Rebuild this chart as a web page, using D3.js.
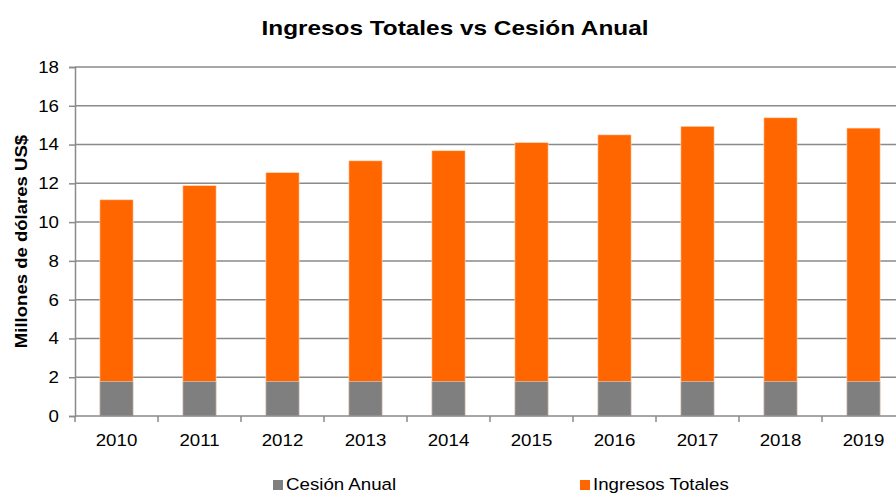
<!DOCTYPE html>
<html>
<head>
<meta charset="utf-8">
<script src="https://cdn.jsdelivr.net/npm/d3@7"></script>
<style>
  body { margin: 0; background: #fff; }
  text { font-family: "Liberation Sans", Arial, sans-serif; fill: #000; }
</style>
</head>
<body>
<div id="chart"></div>
<script>
const years = ["2010", "2011", "2012", "2013", "2014", "2015", "2016", "2017", "2018", "2019"];
const ingresosTotales = [11.15, 11.88, 12.55, 13.16, 13.68, 14.1, 14.5, 14.94, 15.38, 14.85];
const cesionAnual = [1.78, 1.78, 1.78, 1.78, 1.78, 1.78, 1.78, 1.78, 1.78, 1.78];
const yTicks = [0, 2, 4, 6, 8, 10, 12, 14, 16, 18];

let width = 896,
    height = 495,
    margin = ({ top: 67, right: -9, bottom: 79, left: 75 });

const sx = 1.1; // text in the original is drawn a little wide

const svg = d3.select("#chart")
  .append("svg")
  .attr("width", width)
  .attr("height", height);

let x = d3.scaleBand()
  .domain(years)
  .range([margin.left, width - margin.right])
  .paddingInner(0.6)
  .paddingOuter(0.3);

let y = d3.scaleLinear()
  .domain([0, 18])
  .range([height - margin.bottom, margin.top]);

// gridlines
svg.append("g")
  .selectAll("line")
  .data(yTicks.filter(d => d > 0))
  .join("line")
  .attr("x1", margin.left)
  .attr("x2", width)
  .attr("y1", d => y(d))
  .attr("y2", d => y(d))
  .attr("stroke", "#8a8a8a")
  .attr("stroke-width", 1.5);

// total revenue bars (behind)
svg.append("g")
  .selectAll("rect")
  .data(years)
  .join("rect")
  .attr("x", d => x(d))
  .attr("width", x.bandwidth())
  .attr("y", (d, i) => y(ingresosTotales[i]))
  .attr("height", (d, i) => y(0) - y(ingresosTotales[i]))
  .attr("fill", "#ff6600")
  .attr("stroke", "#ffd9bf")
  .attr("stroke-width", 0.6);

// annual cession bars
svg.append("g")
  .selectAll("rect")
  .data(years)
  .join("rect")
  .attr("x", d => x(d))
  .attr("width", x.bandwidth())
  .attr("y", (d, i) => y(cesionAnual[i]))
  .attr("height", (d, i) => y(0) - y(cesionAnual[i]))
  .attr("fill", "#7f7f7f")
  .attr("stroke", "#d9d9d9")
  .attr("stroke-width", 0.6);

// y axis
const yAxis = svg.append("g")
  .attr("transform", `translate(${margin.left},0)`)
  .call(d3.axisLeft(y).tickValues(yTicks).tickSize(6));
yAxis.select(".domain").attr("stroke", "#8a8a8a").attr("stroke-width", 1.5);
yAxis.selectAll(".tick line").attr("stroke", "#8a8a8a").attr("stroke-width", 1.5);
yAxis.selectAll(".tick text")
  .attr("x", null)
  .attr("transform", `translate(-16,0) scale(${sx},1)`)
  .attr("font-size", 17)
  .style("font-family", "Liberation Sans, Arial, sans-serif");

// x axis: ticks at category boundaries
const xg = svg.append("g")
  .attr("transform", `translate(0,${y(0)})`);
xg.append("line")
  .attr("x1", margin.left).attr("x2", width)
  .attr("stroke", "#8a8a8a").attr("stroke-width", 1.5);
xg.selectAll(".bt")
  .data(years)
  .join("line")
  .attr("class", "bt")
  .attr("x1", d => x(d) - x.step() * x.paddingInner() / 2)
  .attr("x2", d => x(d) - x.step() * x.paddingInner() / 2)
  .attr("y1", 0).attr("y2", 6)
  .attr("stroke", "#8a8a8a").attr("stroke-width", 1.5);
xg.selectAll("text")
  .data(years)
  .join("text")
  .attr("transform", d => `translate(${x(d) + x.bandwidth() / 2},30) scale(${sx},1)`)
  .attr("text-anchor", "middle")
  .attr("font-size", 17)
  .text(d => d);

// title
svg.append("text")
  .attr("transform", "translate(455,35) scale(1.16,1)")
  .attr("text-anchor", "middle")
  .attr("font-size", 21)
  .attr("font-weight", "bold")
  .text("Ingresos Totales vs Cesión Anual");

// y axis title
svg.append("text")
  .attr("transform", `translate(27,${(y(0) + y(18)) / 2}) rotate(-90) scale(1.16,1)`)
  .attr("text-anchor", "middle")
  .attr("font-size", 16)
  .attr("font-weight", "bold")
  .text("Millones de dólares US$");

// legend
const legend = [
  { name: "Cesión Anual", color: "#7f7f7f", x: 273 },
  { name: "Ingresos Totales", color: "#ff6600", x: 580 }
];
const lg = svg.append("g")
  .selectAll("g")
  .data(legend)
  .join("g")
  .attr("transform", d => `translate(${d.x},480)`);
lg.append("rect")
  .attr("width", 10).attr("height", 10)
  .attr("fill", d => d.color);
lg.append("text")
  .attr("transform", `translate(13,10) scale(${sx},1)`)
  .attr("font-size", 17)
  .text(d => d.name);
</script>
</body>
</html>
